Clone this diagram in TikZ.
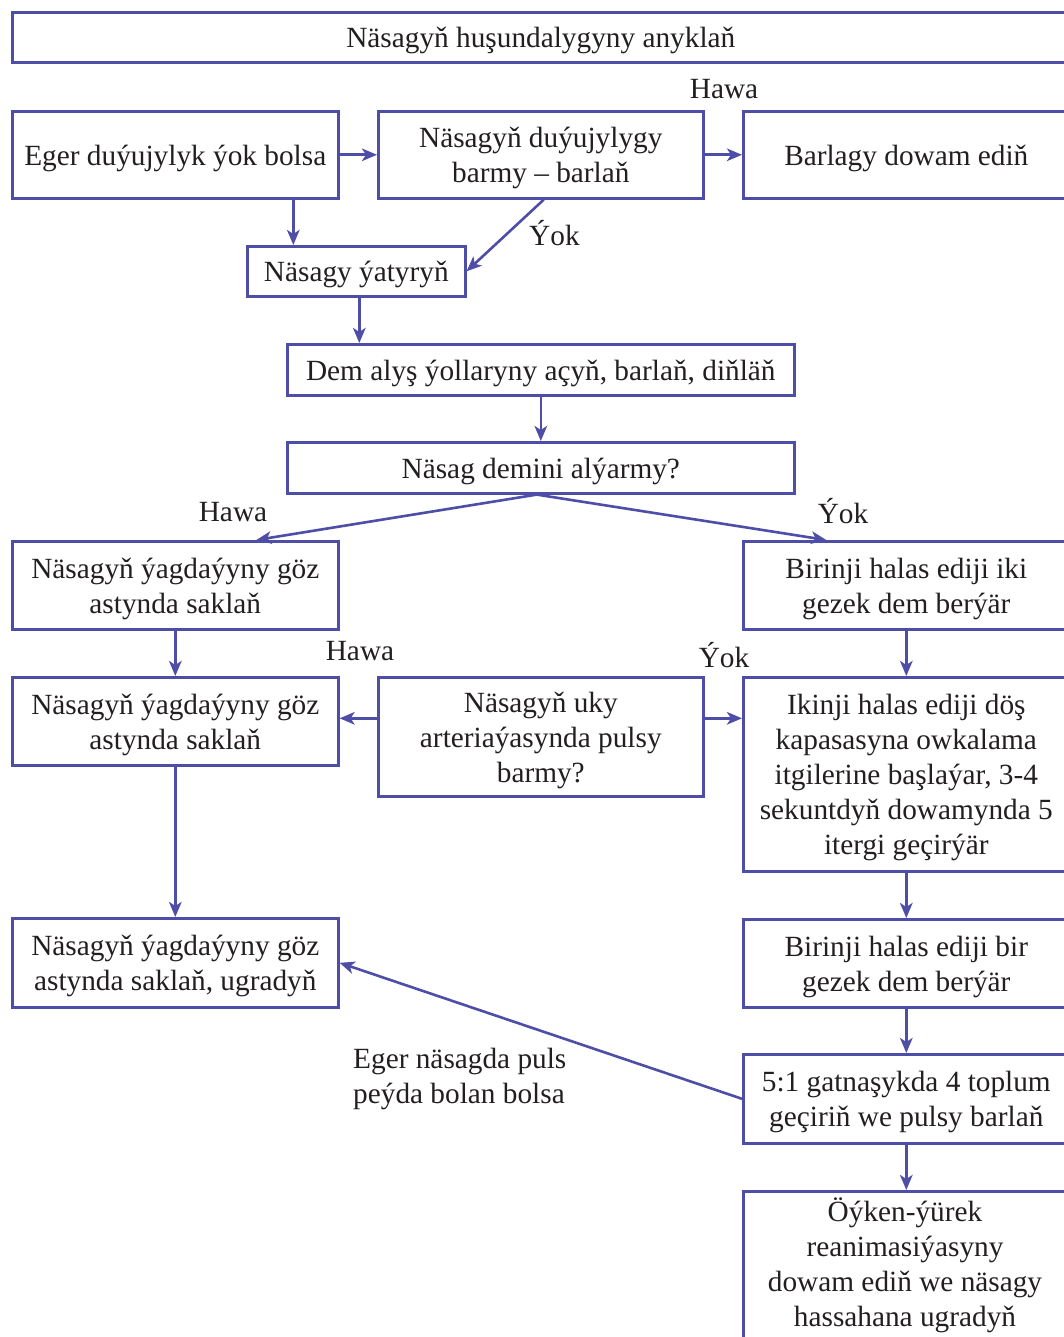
\documentclass[tikz,border=0pt]{standalone}
\usepackage{fontspec}
\setmainfont{Liberation Serif}
\usetikzlibrary{arrows.meta}
\definecolor{frame}{RGB}{78,78,168}
\definecolor{ink}{RGB}{35,31,32}
\begin{document}
\begin{tikzpicture}[x=1pt,y=-1pt,
  box/.style={draw=frame,line width=2.6pt,anchor=north west,align=center,inner sep=0pt,
    text=ink,font=\fontsize{29.3}{35}\selectfont},
  lbl/.style={text=ink,font=\fontsize{29.3}{35}\selectfont,inner sep=0pt},
  arr/.style={draw=frame,line width=2.6pt,-{Stealth[length=15pt,width=12.5pt,inset=4pt]}}]
\clip (0,0) rectangle (1064,1337);
\fill[white] (0,0) rectangle (1064,1337);
% boxes
\node[box,minimum width=1057,minimum height=50] (T) at (11,11) {\rule{0pt}{27pt}Näsagyň huşundalygyny anyklaň};
\node[box,minimum width=326,minimum height=87] (A) at (11,110) {\rule{0pt}{27pt}Eger duýujylyk ýok bolsa};
\node[box,minimum width=325,minimum height=87] (B) at (377,110) {\rule{0pt}{27pt}Näsagyň duýujylygy\\barmy – barlaň};
\node[box,minimum width=326,minimum height=87] (C) at (742,110) {\rule{0pt}{27pt}Barlagy dowam ediň};
\node[box,minimum width=218,minimum height=50] (D) at (246,245) {\rule{0pt}{27pt}Näsagy ýatyryň};
\node[box,minimum width=507,minimum height=51] (E) at (286,343) {\rule{0pt}{27pt}Dem alyş ýollaryny açyň, barlaň, diňläň};
\node[box,minimum width=507,minimum height=51] (F) at (286,441) {\rule{0pt}{27pt}Näsag demini alýarmy?};
\node[box,minimum width=326,minimum height=88] (G) at (11,540) {\rule{0pt}{27pt}Näsagyň ýagdaýyny göz\\astynda saklaň};
\node[box,minimum width=326,minimum height=88] (H) at (742,540) {\rule{0pt}{27pt}Birinji halas ediji iki\\gezek dem berýär};
\node[box,minimum width=326,minimum height=88] (I) at (11,676) {\rule{0pt}{27pt}Näsagyň ýagdaýyny göz\\astynda saklaň};
\node[box,minimum width=325,minimum height=119] (J) at (377,676) {\rule{0pt}{27pt}Näsagyň uky\\arteriaýasynda pulsy\\barmy?};
\node[box,minimum width=326,minimum height=194] (K) at (742,676) {\rule{0pt}{27pt}Ikinji halas ediji döş\\kapasasyna owkalama\\itgilerine başlaýar, 3-4\\sekuntdyň dowamynda 5\\itergi geçirýär};
\node[box,minimum width=326,minimum height=89] (L) at (11,917) {\rule{0pt}{27pt}Näsagyň ýagdaýyny göz\\astynda saklaň, ugradyň};
\node[box,minimum width=326,minimum height=88] (M) at (742,918) {\rule{0pt}{27pt}Birinji halas ediji bir\\gezek dem berýär};
\node[box,minimum width=326,minimum height=89] (N) at (742,1053) {\rule{0pt}{27pt}5:1 gatnaşykda 4 toplum\\geçiriň we pulsy barlaň};
\node[box,minimum width=326,minimum height=160] (O) at (742,1190) {};
\node[lbl,align=center,anchor=north] (Otext) at (905,1198) {Öýken-ýürek\\reanimasiýasyny\\dowam ediň we näsagy\\hassahana ugradyň};
% labels
\node[lbl] (l1) at (724,89) {Hawa};
\node[lbl,anchor=west] (l2) at (529,233) {Ýok};
\node[lbl] (l3) at (233,512) {Hawa};
\node[lbl] (l4) at (843,511) {Ýok};
\node[lbl] (l5) at (360,651) {Hawa};
\node[lbl] (l6) at (724,655) {Ýok};
\node[lbl,align=left,anchor=north west] (l7) at (353,1048) {Eger näsagda puls\\peýda bolan bolsa};
% connectors
\draw[arr] (A.east) -- (B.west);
\draw[arr] (B.east) -- (C.west);
\draw[arr] ([xshift=118pt]A.south) -- ([xshift=118pt]A.south |- D.north);
\draw[arr] ([xshift=3pt]B.south) -- (D.east);
\draw[arr] ([xshift=3pt]D.south) -- ([xshift=3pt]D.south |- E.north);
\draw[arr] (E.south) -- (F.north);
\draw[arr] ([xshift=-4pt]F.south) -- ([xshift=81pt]G.north);
\draw[arr] ([xshift=-4pt]F.south) -- ([xshift=-80pt]H.north);
\draw[arr] (G.south) -- (I.north);
\draw[arr] (H.south) -- (K.north);
\draw[arr] ([yshift=3pt]J.west |- I.east) -- ([yshift=3pt]I.east);
\draw[arr] ([yshift=3pt]J.east |- I.east) -- ([yshift=3pt]K.west |- I.east);
\draw[arr] (I.south) -- (L.north);
\draw[arr] (K.south) -- (M.north);
\draw[arr] (M.south) -- (N.north);
\draw[arr] (N.west) -- (L.east);
\draw[arr] (N.south) -- (O.north);
\end{tikzpicture}
\end{document}
